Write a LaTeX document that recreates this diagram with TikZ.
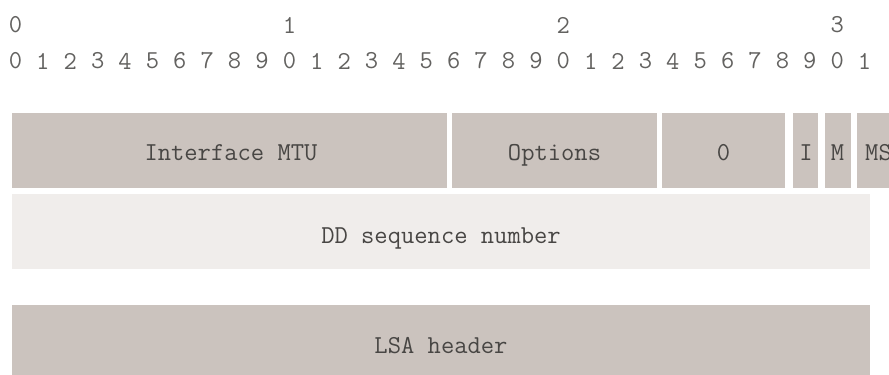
\documentclass[tikz,border=0pt]{standalone}
\usepackage{tikz}

\definecolor{fieldgray}{RGB}{203,195,190}
\definecolor{fieldlight}{RGB}{240,237,235}
\definecolor{inkgray}{RGB}{72,70,68}

\begin{document}
\begin{tikzpicture}[x=0.02cm, y=-0.02cm,
	font=\ttfamily\fontsize{14.7pt}{17pt}\selectfont,
	bit/.style={inner sep=0pt, text=inkgray!85},
	lbl/.style={anchor=base, inner sep=0pt, text=inkgray}]

	\useasboundingbox (0,0) rectangle (889,375);

	\foreach \b in {0,...,31} {
		\pgfmathtruncatemacro{\d}{mod(\b,10)}
		\node [bit] (bit\b) at ({15.5+27.39*\b},61) {\d};
	}
	\foreach \t in {0,1,2,3}
		\node [bit] (dec\t) at ({15.5+273.9*\t},25) {\t};

	\fill [fieldgray] (12,113) rectangle (447,188);
	\fill [fieldgray] (452,113) rectangle (657,188);
	\fill [fieldgray] (662,113) rectangle (785,188);
	\fill [fieldgray] (793,113) rectangle (818,188);
	\fill [fieldgray] (825,113) rectangle (851,188);
	\fill [fieldgray] (857,113) rectangle (905,188);
	\node [lbl] (mtu) at (231,160) {Interface MTU};
	\node [lbl] (opts) at (554.5,160) {Options};
	\node [lbl] (zero) at (723.5,160) {0};
	\node [lbl] (ibit) at (806,160) {I};
	\node [lbl] (mbit) at (837.5,160) {M};
	\node [lbl] (msbit) at (878.5,160) {MS};

	\fill [fieldlight] (12,194) rectangle (870,269);
	\node [lbl] (ddseq) at (441,243) {DD sequence number};

	\fill [fieldgray] (12,305) rectangle (870,380);
	\node [lbl] (lsahdr) at (441,353) {LSA header};

\end{tikzpicture}
\end{document}
